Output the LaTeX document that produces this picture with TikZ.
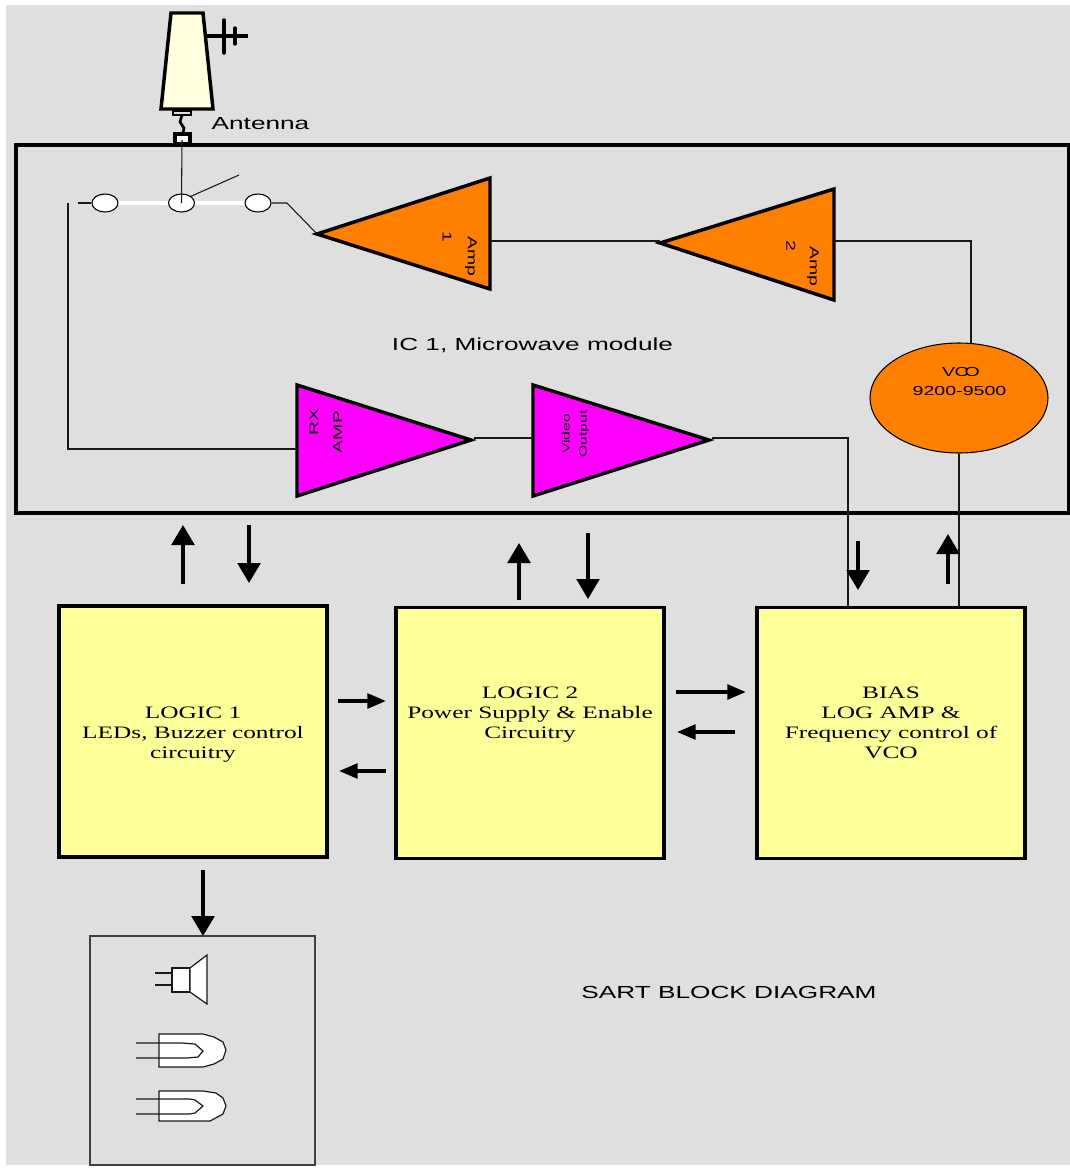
\documentclass[tikz,border=0pt]{standalone}
\usepackage{fontspec}
\usetikzlibrary{arrows.meta,shapes.geometric}
\setmainfont{Liberation Serif}
\newfontfamily\widesans[FakeStretch=1.5]{Liberation Sans}
\newfontfamily\wideserif[FakeStretch=1.45]{Liberation Serif}
\definecolor{panel}{HTML}{DFDFDF}
\definecolor{blockfill}{HTML}{FFFF99}
\definecolor{ampo}{HTML}{FF8000}
\definecolor{ampm}{HTML}{FF00FF}
\definecolor{antfill}{HTML}{FFFFE0}
\tikzset{
  px/.style={x=0.75pt,y=-0.75pt},
  heavy/.style={draw=black,line width=2.6pt,line join=miter},
  wire/.style={draw=black!90,line width=0.8pt},
  bigarrow/.style={draw=black,line width=2.7pt,-{Triangle[length=15pt,width=17pt]}},
  sidearrow/.style={draw=black,line width=2.7pt,-{Triangle[length=14pt,width=11pt]}},
  blockbox/.style={draw=black,line width=2.6pt,fill=blockfill,minimum width=201pt,minimum height=188.5pt,inner sep=0pt},
  blocktext/.style={font=\wideserif\fontsize{13.1pt}{15pt}\selectfont,align=center,inner sep=0pt},
  sanslabel/.style={font=\widesans\fontsize{13.1pt}{15pt}\selectfont,inner sep=0pt},
  amplabel/.style={font=\widesans\fontsize{9.7pt}{11pt}\selectfont,inner sep=0pt},
  vidlabel/.style={font=\widesans\fontsize{7.8pt}{10pt}\selectfont,inner sep=0pt},
  vcolabel/.style={font=\widesans\fontsize{9.8pt}{12pt}\selectfont,inner sep=0pt},
  contact/.style={ellipse,draw=black,line width=0.8pt,fill=white,minimum width=19.5pt,minimum height=13.5pt,inner sep=0pt},
  ampO/.style={heavy,fill=ampo},
  ampM/.style={heavy,fill=ampm},
  thinpart/.style={draw=black!90,line width=0.9pt,fill=white},
  thinline/.style={draw=black!90,line width=0.9pt},
  antstroke/.style={draw=black,line width=2.6pt},
}
\begin{document}
\begin{tikzpicture}[px]
\useasboundingbox (0,0) rectangle (1070,1168);
\fill[white] (0,0) rectangle (1070,1168);
\fill[panel] (6,5) rectangle (1070,1165);
% antenna
\draw[antstroke,fill=antfill] (171,13) -- (203,13) -- (213,109) -- (161,109) -- cycle;
\draw[draw=black,line width=2pt,fill=panel] (173,111) rectangle (191,115);
\draw[draw=black,line width=2pt] (182,115) -- (180,122) -- (184,128) -- (183,133);
\draw[antstroke,fill=white!80!panel] (175,134) rectangle (190,144);
\draw[antstroke] (207,36) -- (248,36);
\draw[antstroke,line cap=round] (224,20) -- (224,53);
\draw[antstroke,line cap=round] (235,28) -- (235,44);
\node[sanslabel] (antlabel) at (260.5,124) {Antenna};
% module
\node[heavy,minimum width=790pt,minimum height=276pt,inner sep=0pt] (module) at (542.5,329) {};
\node[sanslabel] (modlabel) at (532.5,345.5) {IC 1, Microwave module};
% switch
\draw[white,line width=2.8pt] (105,203) -- (258,203);
\node[contact] (c1) at (105,203) {};
\node[contact] (c2) at (181.5,203) {};
\node[contact] (c3) at (258,203) {};
\coordinate (armend) at (239,175);
\coordinate (feedtop) at (182,140);
\draw[wire] (c2.north east) -- (armend);
\draw[wire] (feedtop) -- (c2.center);
% amplifiers
\draw[ampO] (317,234) coordinate (a1tip) -- (490,178) -- (490,289) -- cycle;
\draw[ampO] (660,243) coordinate (a2tip) -- (834,189) -- (834,300) -- cycle;
\draw[ampM] (297,385) -- (297,496) -- (471,440) coordinate (rxtip) -- cycle;
\draw[ampM] (533,385) -- (533,496) -- (709,440) coordinate (vidtip) -- cycle;
\node[amplabel,rotate=-90] (a1a) at (471,256) {Amp};
\node[amplabel,rotate=-90] (a1b) at (447,237) {1};
\node[amplabel,rotate=-90] (a2a) at (813,266) {Amp};
\node[amplabel,rotate=-90] (a2b) at (791,246) {2};
\node[amplabel,rotate=90] (rxa) at (314,422) {RX};
\node[amplabel,rotate=90] (rxb) at (338,432) {AMP};
\node[vidlabel,rotate=90] (vida) at (566,434) {Video};
\node[vidlabel,rotate=90] (vidb) at (584,434) {Output};
% VCO
\node[ellipse,draw=black,line width=0.8pt,fill=ampo,minimum width=133.5pt,minimum height=82.5pt,inner sep=0pt] (vco) at (959,398) {};
\node[vcolabel] (vcoa) at (961,372) {V\kern-0.5pt C\kern-3pt O};
\node[vcolabel] (vcob) at (959.5,391) {9200-9500};
% blocks
\node[blockbox] (logic1) at (193,731.5) {};
\node[blockbox] (logic2) at (530,733) {};
\node[blockbox] (bias) at (891,733) {};
\node[blocktext] (l1t) at (193,735) {LOGIC 1\\LEDs, Buzzer control\\circuitry};
\node[blocktext] (l2t) at (530,715) {LOGIC 2\\Power Supply \& Enable\\Circuitry};
\node[blocktext] (bt) at (891,723) {BIAS\\LOG AMP \&\\Frequency control of\\VCO};
% connectors
\coordinate (lc) at (78,203);
\coordinate (lv) at (68,203);
\coordinate (lb) at (68,449);
\coordinate (rxin) at (297,449);
\coordinate (c3r) at (287,203);
\coordinate (a1r) at (490,241);
\coordinate (a2r) at (835,241);
\coordinate (vcotop) at (971,241);
\coordinate (vcotopb) at (971,344);
\coordinate (rxo) at (474,438);
\coordinate (vidin) at (533,438);
\coordinate (vido) at (712,438);
\coordinate (vidc) at (848,438);
\coordinate (vidb2) at (848,607);
\coordinate (vcob2) at (959,607);
\draw[wire] (lc) -- (c1.west);
\draw[wire] (lv) -- (lb) -- (rxin);
\draw[wire] (c3.east) -- (c3r) -- (a1tip);
\draw[wire] (a1r) -- (a2tip |- a1r);
\draw[wire] (a2r) -- (vcotop) -- (vcotopb);
\draw[wire] (rxo) -- (vidin);
\draw[wire] (vido) -- (vidc) -- (vidb2);
\draw[wire] (vco.south) -- (vcob2);
% arrows
\foreach \n/\xa/\ya/\xb/\yb in {u1/183/584/183/525,d1/249/525/249/583,u2/519/600/519/543,d2/588/533/588/599,d3/858/541/858/590,u3/948/584/948/534,d4/203/870/203/936}{
  \coordinate (\n s) at (\xa,\ya);
  \coordinate (\n e) at (\xb,\yb);
  \draw[bigarrow] (\n s) -- (\n e);
}
\foreach \n/\xa/\ya/\xb/\yb in {h1/338/701/386/701,h2/386/771/339/771,h3/676/692/746/692,h4/735/732/677/732}{
  \coordinate (\n s) at (\xa,\ya);
  \coordinate (\n e) at (\xb,\yb);
  \draw[sidearrow] (\n s) -- (\n e);
}
% output box
\node[draw=black!75,line width=1.1pt,minimum width=168.75pt,minimum height=171.75pt,inner sep=0pt] (outbox) at (202.5,1050.5) {};
% speaker
\draw[thinpart] (172,968) rectangle (190,992);
\draw[thinpart] (190,968) -- (207,955) -- (207,1004) -- (190,992) -- cycle;
\draw[thinline] (155,973) -- (172,973) (155,985) -- (172,985);
% LEDs
\draw[thinpart] (159,1034) -- (203,1034) -- (214,1037) -- (223,1042) -- (226,1050) -- (223,1059) -- (214,1064) -- (203,1067) -- (159,1067) -- cycle;
\draw[thinline] (136,1043) -- (182,1043) -- (195,1044) -- (203,1051) -- (198,1057) -- (187,1058) -- (136,1058);
\draw[thinpart] (159,1091) -- (203,1091) -- (216,1093) -- (223,1098) -- (226,1106) -- (223,1114) -- (210,1121) -- (159,1121) -- cycle;
\draw[thinline] (136,1099) -- (190,1099) -- (195,1100) -- (203,1106) -- (195,1113) -- (190,1114) -- (136,1114);
% title
\node[sanslabel] (title) at (729,992.5) {SART BLOCK DIAGRAM};
\end{tikzpicture}
\end{document}
